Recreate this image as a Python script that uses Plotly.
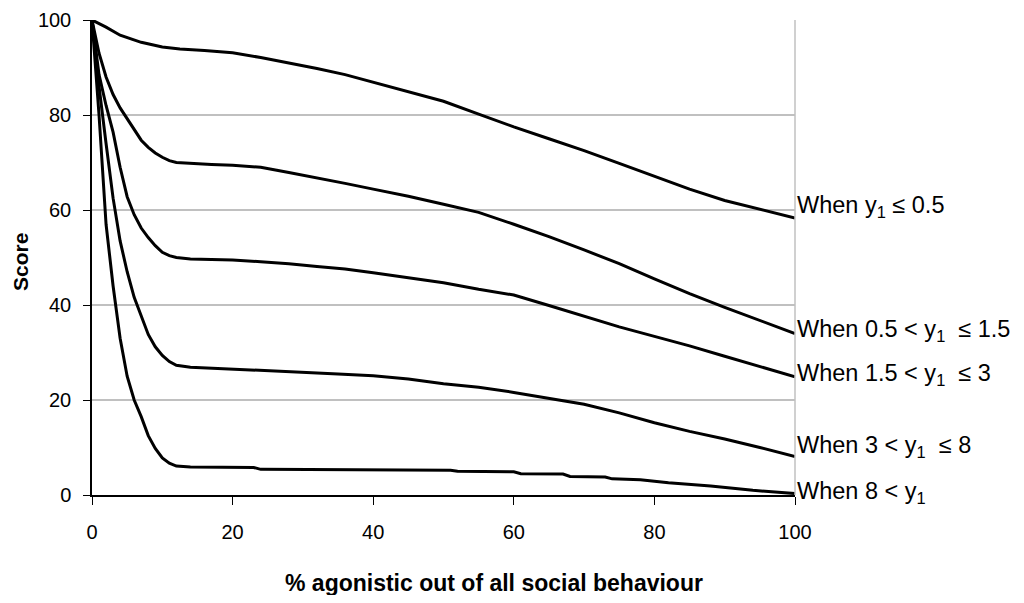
import plotly.graph_objects as go

# ---- data ----
x_a = [0, 2, 4, 7, 10, 12.5, 16, 20, 24, 28, 32, 36, 40, 45, 50, 55, 60, 65, 70, 75, 80, 85, 90, 95, 100]
y_a = [100, 98.5, 96.8, 95.3, 94.3, 93.9, 93.6, 93.1, 92.1, 91.0, 89.8, 88.5, 86.9, 85.0, 82.9, 80.2, 77.5, 75.0, 72.5, 69.8, 67.1, 64.4, 62.0, 60.1, 58.3]

x_b = [0, 1, 2, 3, 4, 5, 6, 7, 8, 9, 10, 11, 12, 14, 17, 20, 24, 28, 32, 36, 40, 45, 50, 55, 60, 65, 70, 75, 80, 85, 90, 95, 100]
y_b = [100, 93, 88, 84.3, 81.5, 79.2, 76.8, 74.7, 73.2, 72.0, 71.1, 70.4, 70.0, 69.9, 69.6, 69.4, 69.0, 67.9, 66.8, 65.6, 64.4, 62.9, 61.2, 59.5, 57.0, 54.4, 51.6, 48.7, 45.5, 42.4, 39.5, 36.8, 34.0]

x_c = [0, 1, 2, 3, 4, 5, 6, 7, 8, 9, 10, 11, 12, 14, 17, 20, 24, 28, 32, 36, 40, 45, 50, 55, 60, 65, 70, 75, 80, 85, 90, 95, 100]
y_c = [100, 88.5, 82.0, 76.4, 69.0, 62.8, 59.0, 56.2, 54.2, 52.5, 51.1, 50.4, 50.0, 49.7, 49.6, 49.5, 49.1, 48.7, 48.1, 47.6, 46.8, 45.8, 44.7, 43.3, 42.1, 39.9, 37.6, 35.4, 33.4, 31.4, 29.2, 27.1, 24.9]

x_d = [0, 1, 2, 3, 4, 5, 6, 7, 8, 9, 10, 11, 12, 14, 17, 20, 25, 30, 35, 40, 45, 50, 55, 60, 65, 70, 75, 80, 85, 90, 95, 100]
y_d = [100, 86, 74, 62.5, 53.5, 47.0, 41.6, 37.5, 33.8, 31.2, 29.4, 28.1, 27.3, 26.9, 26.7, 26.6, 26.2, 25.9, 25.5, 25.1, 24.4, 23.4, 22.7, 21.6, 20.3, 19.1, 17.3, 15.2, 13.4, 11.8, 10.0, 8.1]

x_e = [0, 1, 2, 3, 4, 5, 6, 7, 8, 9, 10, 11, 12, 14, 23, 24, 51, 52, 60, 61, 67, 68, 73, 74, 78, 82, 88, 94, 100]
y_e = [100, 80, 57, 44, 33, 25, 20, 16.5, 12.5, 9.8, 7.8, 6.7, 6.1, 5.9, 5.8, 5.4, 5.2, 5.0, 4.9, 4.5, 4.4, 3.9, 3.8, 3.4, 3.2, 2.6, 1.9, 1.0, 0.3]

series_x = [x_a, x_b, x_c, x_d, x_e]
series_y = [y_a, y_b, y_c, y_d, y_e]

labels = [
    "When y<sub>1</sub> ≤ 0.5",
    "When 0.5 &lt; y<sub>1</sub>&nbsp; ≤ 1.5",
    "When 1.5 &lt; y<sub>1</sub>&nbsp; ≤ 3",
    "When 3 &lt; y<sub>1</sub>&nbsp; ≤ 8",
    "When 8 &lt; y<sub>1</sub>",
]
label_y = [60.8, 34.6, 25.3, 10.2, 0.5]

tick_vals = [0, 20, 40, 60, 80, 100]
x_title = "% agonistic out of all social behaviour"
y_title = "Score"

FONT = "Liberation Sans, Arial, Helvetica, sans-serif"

fig = go.Figure()
for xs, ys in zip(series_x, series_y):
    fig.add_trace(go.Scatter(
        x=xs, y=ys, mode="lines",
        line=dict(color="black", width=3),
        cliponaxis=False, showlegend=False, hoverinfo="skip",
    ))

for txt, yv in zip(labels, label_y):
    fig.add_annotation(
        x=100, y=yv, xref="x", yref="y", text=txt, showarrow=False,
        xanchor="left", yanchor="middle", xshift=0,
        font=dict(family=FONT, size=23.5, color="black"),
    )

fig.add_annotation(
    x=(493.5 - 92) / 703, y=(495 - 583) / 475, xref="paper", yref="paper",
    text="<b>" + x_title + "</b>", showarrow=False,
    xanchor="center", yanchor="middle",
    font=dict(family=FONT, size=23, color="black"),
)
fig.add_annotation(
    x=(20 - 92) / 703, y=(495 - 262) / 475, xref="paper", yref="paper",
    text="<b>" + y_title + "</b>", showarrow=False, textangle=-90,
    xanchor="center", yanchor="middle",
    font=dict(family=FONT, size=21, color="black"),
)

fig.add_shape(type="line", xref="paper", yref="paper", x0=1, x1=1, y0=0, y1=1,
              line=dict(color="#c0c0c0", width=1.5))

fig.update_layout(
    width=1008, height=587,
    margin=dict(l=84, r=221, t=12, b=100, autoexpand=False),
    paper_bgcolor="white", plot_bgcolor="white",
    font=dict(family=FONT, size=20, color="black"),
    xaxis=dict(
        range=[0, 100], tickvals=tick_vals, ticks="outside", ticklen=8,
        tickcolor="black", showline=True, linecolor="black", linewidth=1.5,
        showgrid=False, zeroline=False, ticklabelstandoff=10, automargin=False,
        tickfont=dict(family=FONT, size=20, color="black"),
    ),
    yaxis=dict(
        range=[0, 100], tickvals=tick_vals, ticks="outside", ticklen=7,
        tickcolor="black", showline=True, linecolor="black", linewidth=1.5,
        showgrid=True, gridcolor="#c0c0c0", gridwidth=1.5, zeroline=False,
        ticklabelstandoff=8, automargin=False,
        tickfont=dict(family=FONT, size=20, color="black"),
    ),
)

fig.write_html("out.html")
